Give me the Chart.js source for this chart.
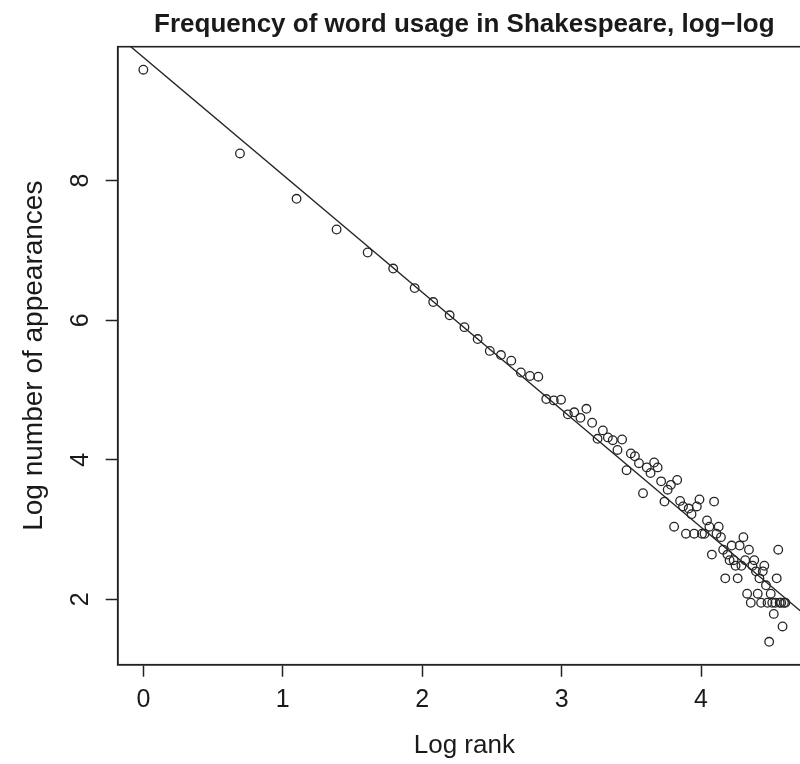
<!DOCTYPE html>
<html><head><meta charset="utf-8">
<script src="https://cdn.jsdelivr.net/npm/chart.js@4.4.1/dist/chart.umd.min.js"></script>
<style>
html,body{margin:0;padding:0;overflow:hidden;background:#fff;width:800px;height:764px}
#wrap{position:absolute;left:0;top:0;width:830px;height:764px}
</style></head><body>
<div id="wrap"><canvas id="c"></canvas></div>
<script>
// log of word rank (1..100)
const logRank = [0, 0.693, 1.099, 1.386, 1.609, 1.792, 1.946, 2.079, 2.197, 2.303,
  2.398, 2.485, 2.565, 2.639, 2.708, 2.773, 2.833, 2.890, 2.944, 2.996,
  3.045, 3.091, 3.135, 3.178, 3.219, 3.258, 3.296, 3.332, 3.367, 3.401,
  3.434, 3.466, 3.497, 3.526, 3.555, 3.584, 3.611, 3.638, 3.664, 3.689,
  3.714, 3.738, 3.761, 3.784, 3.807, 3.829, 3.850, 3.871, 3.892, 3.912,
  3.932, 3.951, 3.970, 3.989, 4.007, 4.025, 4.043, 4.060, 4.078, 4.094,
  4.111, 4.127, 4.143, 4.159, 4.174, 4.190, 4.205, 4.220, 4.234, 4.248,
  4.263, 4.277, 4.290, 4.304, 4.317, 4.331, 4.344, 4.357, 4.369, 4.382,
  4.394, 4.407, 4.419, 4.431, 4.443, 4.454, 4.466, 4.477, 4.489, 4.500,
  4.511, 4.522, 4.533, 4.543, 4.554, 4.564, 4.575, 4.585, 4.595, 4.605];
// log number of appearances
const logCount = [9.59, 8.39, 7.74, 7.30, 6.97, 6.74, 6.46, 6.26, 6.07, 5.90,
  5.73, 5.56, 5.50, 5.42, 5.25, 5.20, 5.19, 4.87, 4.85, 4.86,
  4.65, 4.68, 4.60, 4.73, 4.53, 4.30, 4.42, 4.32, 4.28, 4.14,
  4.29, 3.85, 4.09, 4.05, 3.95, 3.52, 3.89, 3.81, 3.96, 3.89,
  3.69, 3.40, 3.57, 3.64, 3.04, 3.71, 3.41, 3.33, 2.94, 3.30,
  3.22, 2.94, 3.33, 3.43, 2.94, 2.94, 3.13, 3.04, 2.64, 3.40,
  2.94, 3.04, 2.89, 2.71, 2.30, 2.64, 2.56, 2.77, 2.56, 2.48,
  2.30, 2.77, 2.48, 2.89, 2.56, 2.08, 2.71, 1.95, 2.48, 2.56,
  2.40, 2.08, 2.30, 1.95, 2.40, 2.48, 2.20, 1.95, 1.39, 2.08,
  1.95, 1.79, 1.95, 2.30, 2.71, 1.95, 1.95, 1.61, 1.95, 1.95];
// fitted straight line, two end points (beyond the plot, clipped)
const fitX = [-0.5, 5.0];
const fitY = [10.61, 1.35];
const xTicks = [0, 1, 2, 3, 4];
const yTicks = [2, 4, 6, 8];
const titleText = 'Frequency of word usage in Shakespeare, log\u2212log';
const xTitle = 'Log rank';
const yTitle = 'Log number of appearances';

const FONT = "'Liberation Sans', Arial, Helvetica, sans-serif";
const INK = '#1a1a1a';

const frame = {
  id: 'frame',
  afterDatasetsDraw(chart) {
    const {ctx, chartArea: a} = chart;
    ctx.save();
    ctx.strokeStyle = '#222';
    ctx.lineWidth = 1.6;
    ctx.strokeRect(a.left, a.top, a.right - a.left, a.bottom - a.top);
    ctx.restore();
  }
};

new Chart(document.getElementById('c'), {
  type: 'scatter',
  data: {
    datasets: [
      {
        label: 'words',
        data: logRank.map((x, i) => ({x: x, y: logCount[i]})),
        pointRadius: 4.3,
        pointBorderWidth: 1.3,
        borderColor: '#262626',
        backgroundColor: 'rgba(0,0,0,0)',
        pointHoverRadius: 4.3
      },
      {
        label: 'fit',
        data: fitX.map((x, i) => ({x: x, y: fitY[i]})),
        showLine: true,
        borderColor: '#262626',
        borderWidth: 1.4,
        pointRadius: 0,
        pointHoverRadius: 0
      }
    ]
  },
  options: {
    responsive: true,
    maintainAspectRatio: false,
    animation: false,
    devicePixelRatio: 1,
    layout: {padding: {left: 0, right: 19, top: 0, bottom: 0}},
    plugins: {
      legend: {display: false},
      tooltip: {enabled: false},
      title: {
        display: true,
        text: titleText,
        fullSize: false,
        color: INK,
        font: {family: FONT, size: 26, weight: 'bold'},
        padding: {top: 9.5, bottom: 6}
      }
    },
    scales: {
      x: {
        type: 'linear',
        min: -0.184,
        max: 4.789,
        afterBuildTicks: s => { s.ticks = xTicks.map(v => ({value: v})); },
        afterFit: s => { s.height = 99.3; },
        grid: {display: true, drawOnChartArea: false, drawTicks: true, tickLength: 12, tickColor: '#222', tickWidth: 1.5},
        border: {display: true, color: '#222', width: 1.6},
        ticks: {color: INK, font: {family: FONT, size: 25}, padding: 8, maxRotation: 0, autoSkip: false, callback: v => String(v)},
        title: {display: true, text: xTitle, color: INK, font: {family: FONT, size: 26}, padding: {top: 0, bottom: 3}}
      },
      y: {
        type: 'linear',
        min: 1.062,
        max: 9.92,
        afterBuildTicks: s => { s.ticks = yTicks.map(v => ({value: v})); },
        afterFit: s => { s.width = 117.7; },
        grid: {display: true, drawOnChartArea: false, drawTicks: true, tickLength: 12, tickColor: '#222', tickWidth: 1.5},
        border: {display: true, color: '#222', width: 1.6},
        ticks: {color: INK, font: {family: FONT, size: 25}, padding: 17.5, minRotation: 90, maxRotation: 90, crossAlign: 'center', autoSkip: false, callback: v => String(v)},
        title: {display: true, text: yTitle, color: INK, font: {family: FONT, size: 28}, padding: {top: 17, bottom: 0}}
      }
    }
  },
  plugins: [frame]
});
</script>
</body></html>
